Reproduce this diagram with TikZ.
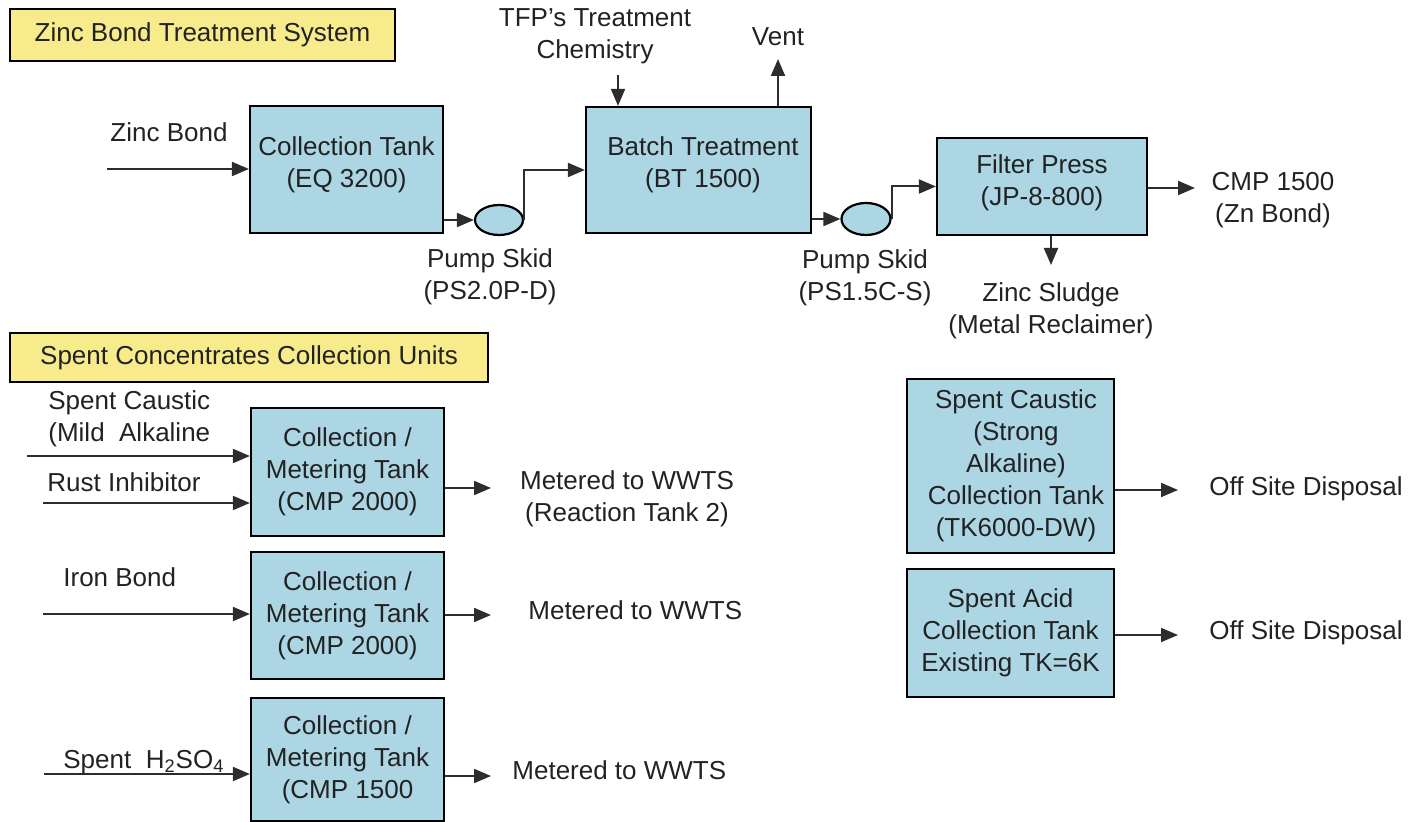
\documentclass[tikz,border=0pt]{standalone}
\usepackage{fontspec}
\setmainfont{Liberation Sans}
\usetikzlibrary{arrows.meta,shapes.geometric}
\definecolor{tankblue}{RGB}{172,214,228}
\definecolor{titleyellow}{RGB}{247,235,140}
\definecolor{ink}{RGB}{34,34,34}
\definecolor{linegray}{RGB}{45,45,45}
\begin{document}
\begin{tikzpicture}[x=0.5pt,y=-0.5pt,
  every node/.style={font=\fontsize{13}{16}\selectfont, text=ink},
  tank/.style={draw=black, line width=1.1pt, fill=tankblue, align=center, inner sep=0pt},
  titlebox/.style={draw=black, line width=1.2pt, fill=titleyellow, inner sep=0pt},
  pump/.style={ellipse, draw=black, line width=1.1pt, fill=tankblue, inner sep=0pt},
  lbl/.style={align=center, inner sep=0pt},
  lbll/.style={align=left, inner sep=0pt, anchor=west},
  arr/.style={draw=linegray, line width=1pt, -{Triangle[length=8.5pt,width=7pt]}}
]
\useasboundingbox (0,0) rectangle (1412,822);

% titles
\node[titlebox, minimum width=192.5pt, minimum height=26pt] (t1) at (202.5,35) {Zinc Bond Treatment System};
\node[titlebox, minimum width=239pt, minimum height=24.5pt] (t2) at (249,357.5) {Spent Concentrates Collection Units};

% zinc bond line
\node[tank, minimum width=96.5pt, minimum height=63.5pt] (ct) at (346.5,169.5) {};
\node[lbl] (lct) at (346.5,165) {Collection Tank\\(EQ 3200)};
\node[tank, minimum width=112.5pt, minimum height=63pt] (bt) at (698.5,170) {};
\node[lbl] (lbt) at (703,165) {Batch Treatment\\(BT 1500)};
\node[tank, minimum width=105pt, minimum height=48.5pt] (fp) at (1042,186.5) {};
\node[lbl] (lfp) at (1042,183) {Filter Press\\(JP-8-800)};
\node[pump, minimum width=24pt, minimum height=15pt] (p1) at (499,220) {};
\node[pump, minimum width=24.5pt, minimum height=16pt] (p2) at (866,219) {};

\node[lbl] (lzb) at (169,132) {Zinc Bond};
\node[lbl] (ltfp) at (595,36) {TFP’s Treatment\\Chemistry};
\node[lbl] (lvent) at (778,37) {Vent};
\node[lbl] (lps1) at (490,277) {Pump Skid\\(PS2.0P-D)};
\node[lbl] (lps2) at (865,278) {Pump Skid\\(PS1.5C-S)};
\node[lbl] (lsl) at (1051,311) {Zinc Sludge\\(Metal Reclaimer)};
\node[lbl] (lcmp) at (1273,200) {CMP 1500\\(Zn Bond)};

\coordinate (zin) at (107,169);
\coordinate (tfpin) at (618,75);
\coordinate (ventout) at (778,59);
\coordinate (cmpout) at (1195,188);
\coordinate (slout) at (1051,265);

\draw[arr] (zin) -- (zin -| ct.west);
\draw[arr] (tfpin) -- (tfpin |- bt.north);
\draw[arr] (ventout |- bt.north) -- (ventout);
\draw[arr] (ct.east |- p1.west) -- (p1.west);
\draw[arr] (p1.east) |- (bt.west);
\draw[arr] (bt.east |- p2.west) -- (p2.west);
\draw[arr] (p2.east) |- (fp.west);
\draw[arr] (cmpout -| fp.east) -- (cmpout);
\draw[arr] (slout |- fp.south) -- (slout);

% spent concentrates
\node[tank, minimum width=96.5pt, minimum height=64pt] (ta) at (347.5,472) {Collection /\\Metering Tank\\(CMP 2000)};
\node[tank, minimum width=96.5pt, minimum height=63.5pt] (tb) at (347.5,615.5) {Collection /\\Metering Tank\\(CMP 2000)};
\node[tank, minimum width=96.5pt, minimum height=61.5pt] (tc) at (347.5,759.5) {Collection /\\Metering Tank\\(CMP 1500};
\node[tank, minimum width=103.5pt, minimum height=87pt] (td) at (1010.5,466) {};
\node[lbl] (ltd) at (1016,466) {Spent Caustic\\(Strong\\Alkaline)\\Collection Tank\\(TK6000-DW)};
\node[tank, minimum width=103.5pt, minimum height=64pt] (te) at (1010.5,633) {Spent Acid\\Collection Tank\\Existing TK=6K};

\node[lbll] (lsc) at (48,419) {Spent Caustic\\(Mild\ \ Alkaline};
\node[lbll] (lri) at (47,482) {Rust Inhibitor};
\node[lbll] (lib) at (63,577) {Iron Bond};
\node[lbll] (lh) at (63,762) {Spent\ \ H\textsubscript{2}SO\textsubscript{4}};
\node[lbl] (lma) at (627,499) {Metered to WWTS\\(Reaction Tank 2)};
\node[lbll] (lmb) at (528,610) {Metered to WWTS};
\node[lbll] (lmc) at (512,770) {Metered to WWTS};
\node[lbll] (lod) at (1209,489) {Off Site Disposal};
\node[lbll] (loe) at (1209,633) {Off Site Disposal};

\coordinate (scin) at (27,456);
\coordinate (riin) at (43,503);
\coordinate (ibin) at (43,614);
\coordinate (hin) at (44,774);
\coordinate (aout) at (491,488);
\coordinate (bout) at (491,615);
\coordinate (cout) at (491,776);
\coordinate (dout) at (1178,490);
\coordinate (eout) at (1178,635);

\draw[arr] (scin) -- (scin -| ta.west);
\draw[arr] (riin) -- (riin -| ta.west);
\draw[arr] (ibin) -- (ibin -| tb.west);
\draw[arr] (hin) -- (hin -| tc.west);
\draw[arr] (aout -| ta.east) -- (aout);
\draw[arr] (bout -| tb.east) -- (bout);
\draw[arr] (cout -| tc.east) -- (cout);
\draw[arr] (dout -| td.east) -- (dout);
\draw[arr] (eout -| te.east) -- (eout);
\end{tikzpicture}
\end{document}
